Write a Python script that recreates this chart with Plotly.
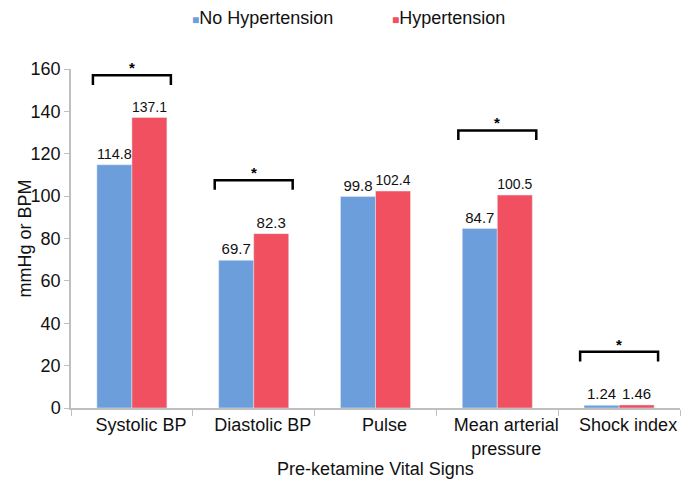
import plotly.graph_objects as go

# 数据
categories = ["Systolic BP", "Diastolic BP", "Pulse", "Mean arterial<br>pressure", "Shock index"]
no_htn = [114.8, 69.7, 99.8, 84.7, 1.24]
htn = [137.1, 82.3, 102.4, 100.5, 1.46]
no_htn_labels = ["114.8", "69.7", "99.8", "84.7", "1.24"]
htn_labels = ["137.1", "82.3", "102.4", "100.5", "1.46"]

# 显著性标记（类别索引, 括号高度）
sig_idx = [0, 1, 3, 4]
sig_level = [157, 107.5, 131, 26.5]

BLUE = "#6c9edb"
RED = "#f0505f"
AXIS = "#bfbfbf"
FONT = "Liberation Sans, Arial, sans-serif"

fig = go.Figure()
fig.add_trace(go.Bar(
    x=categories, y=no_htn, name="No Hypertension", marker_color=BLUE,
    text=no_htn_labels, textposition="outside", cliponaxis=False,
    textfont=dict(size=15, color="#111"),
))
fig.add_trace(go.Bar(
    x=categories, y=htn, name="Hypertension", marker_color=RED,
    text=htn_labels, textposition="outside", cliponaxis=False,
    textfont=dict(size=15, color="#111"),
))

# 括号 + 星号
half = 0.32
drop = 4.5
for i, lvl in zip(sig_idx, sig_level):
    fig.add_shape(
        type="path", xref="x", yref="y",
        path=f"M {i-half},{lvl-drop} L {i-half},{lvl} L {i+half},{lvl} L {i+half},{lvl-drop}",
        line=dict(color="black", width=2.5),
    )
    fig.add_annotation(
        x=i, y=lvl, xref="x", yref="y", text="<b>*</b>", showarrow=False,
        yanchor="bottom", yshift=-3, font=dict(size=15, color="black"),
    )

# 图例（手动）
for xpos, name, color in [(0.196, "No Hypertension", BLUE), (0.523, "Hypertension", RED)]:
    fig.add_annotation(
        x=xpos, y=1.15, xref="paper", yref="paper", xanchor="left", yanchor="middle",
        showarrow=False,
        text=f"<span style='color:{color};font-size:12px'>■</span>{name}",
        font=dict(size=18, color="#111"),
    )

# y 轴标题
fig.add_annotation(
    x=-0.077, y=0.5, xref="paper", yref="paper", xanchor="center", yanchor="middle",
    showarrow=False, textangle=-90, text="mmHg or BPM",
    font=dict(size=18, color="#111"),
)

fig.update_layout(
    width=690, height=480,
    margin=dict(l=71, r=10, t=69, b=72, autoexpand=False),
    paper_bgcolor="white", plot_bgcolor="white",
    font=dict(family=FONT, size=18, color="#111"),
    barmode="group", bargap=0.425, bargroupgap=0,
    showlegend=False,
)
fig.update_xaxes(
    title=dict(text="Pre-ketamine Vital Signs", font=dict(size=18), standoff=4),
    showline=True, linecolor=AXIS, linewidth=1.5,
    ticks="outside", tickson="boundaries", ticklen=6, tickcolor=AXIS,
    tickfont=dict(size=18), ticklabelshift=9, automargin=False,
)
fig.update_yaxes(
    range=[0, 160], dtick=20, showgrid=False, zeroline=False,
    showline=True, linecolor=AXIS, linewidth=1.5,
    ticks="outside", ticklen=5, tickcolor=AXIS,
    tickfont=dict(size=18), automargin=False,
)

# 去掉页面默认边距
fig.write_html("out.html", config={"displayModeBar": False},
               post_script="document.body.style.margin='0';")
